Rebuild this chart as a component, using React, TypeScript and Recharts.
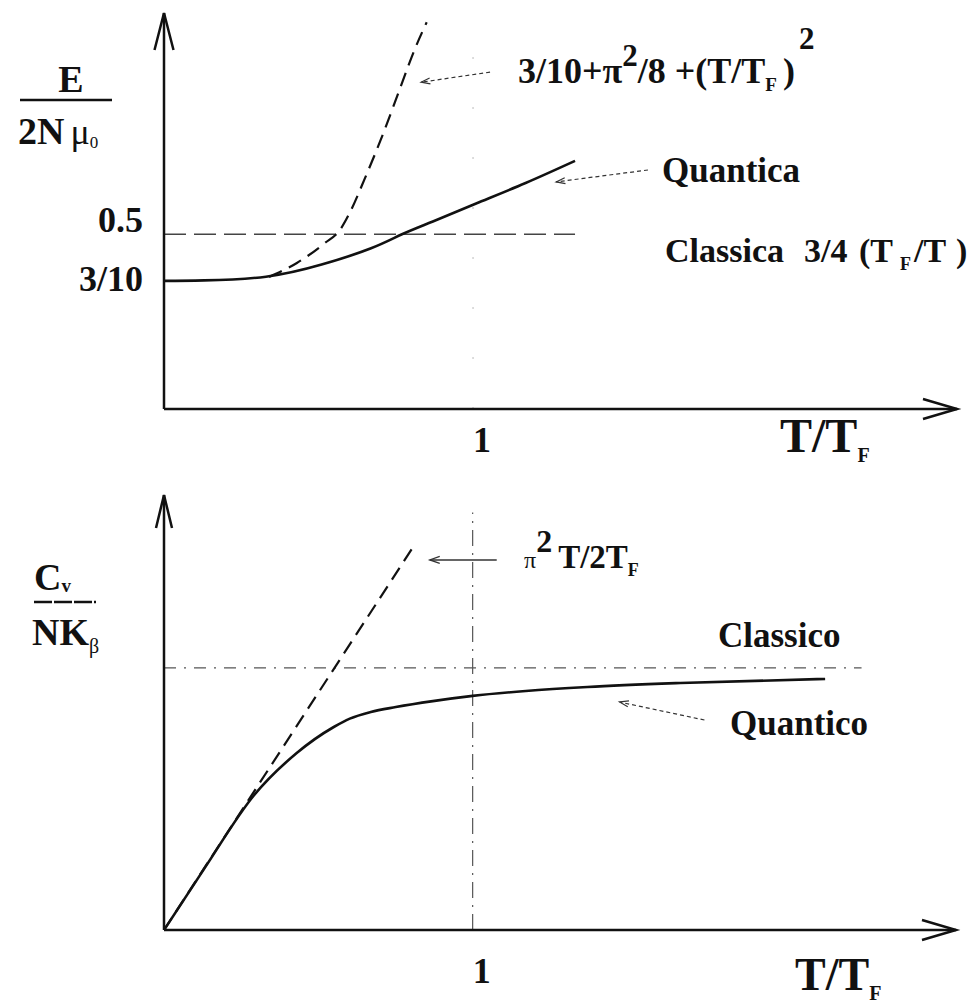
import React from 'react'
import { ComposedChart, Line, XAxis, YAxis, ReferenceLine } from 'recharts'

// Energia media: curva quantistica, sviluppo a bassa T, livello classico
const energyQuantT = [0, 0.13, 0.33, 0.51, 0.67, 0.77, 0.87, 1.01, 1.17, 1.33]
const energyQuantE = [0.3, 0.302, 0.318, 0.37, 0.44, 0.5, 0.555, 0.632, 0.72, 0.815]
const energyLowT = [0.34, 0.43, 0.52, 0.57, 0.6, 0.65, 0.71, 0.77, 0.81, 0.85]
const energyLowE = [0.317, 0.377, 0.462, 0.52, 0.59, 0.74, 0.935, 1.149, 1.29, 1.41]
const energyClassT = [0, 1.33]
const energyClassE = [0.5, 0.5]
const energyTicks = [0.3, 0.5]
const energyTickLabels = ['3/10', '0.5']

// Calore specifico: curva quantistica, retta di bassa T, valore classico
const heatQuantT = [0, 0.13, 0.291, 0.43, 0.55, 0.602, 0.67, 0.751, 0.871, 1.0, 1.172, 1.372, 1.673, 2.142]
const heatQuantC = [0, 0.35, 0.77, 1.013, 1.162, 1.21, 1.248, 1.276, 1.31, 1.34, 1.368, 1.391, 1.414, 1.437]
const heatLinT = [0, 0.81]
const heatLinC = [0, 2.2]
const heatClassT = [0, 2.26]
const heatClassC = [1.5, 1.5]

const unitTicks = [1]
const unitTickLabels = ['1']

const T_MAX = 2.566
const E_DOMAIN: [number, number] = [-0.25, 1.45]
const C_DOMAIN: [number, number] = [0, 2.49]

const FONT = "'Liberation Serif', 'Times New Roman', serif"
const INK = '#111'

const zip = (xs: number[], ys: number[]) => xs.map((t, i) => ({ t, v: ys[i] }))

// linea con punta aperta a "V" sull'estremo finale
function arrowShape(head: number, spread: number, width: number, dash?: string, color = INK) {
  return (p: any) => {
    const { x1, y1, x2, y2 } = p
    const a = Math.atan2(y2 - y1, x2 - x1)
    const bx = x2 - head * Math.cos(a)
    const by = y2 - head * Math.sin(a)
    const sx = spread * Math.sin(a)
    const sy = spread * Math.cos(a)
    return (
      <g>
        <line x1={x1} y1={y1} x2={x2} y2={y2} stroke={color} strokeWidth={width} strokeDasharray={dash} />
        <polyline
          points={`${bx - sx},${by + sy} ${x2},${y2} ${bx + sx},${by - sy}`}
          fill="none" stroke={color} strokeWidth={width} strokeLinejoin="miter"
        />
      </g>
    )
  }
}

const tickFont = { fontFamily: FONT, fontWeight: 700, fontSize: 36, fill: INK }

function UnitTick({ x, y, payload, dy }: any) {
  const i = unitTicks.indexOf(payload.value)
  return <text x={x + 9} y={y + dy} textAnchor="middle" {...tickFont}>{unitTickLabels[i]}</text>
}

function EnergyTick({ x, y, payload }: any) {
  const i = energyTicks.indexOf(payload.value)
  const dy = payload.value === 0.5 ? -2 : 10
  return <text x={x - 21} y={y + dy} textAnchor="end" {...tickFont}>{energyTickLabels[i]}</text>
}

function EnergyChart() {
  return (
    <ComposedChart width={968} height={480} margin={{ top: 13, right: 11, bottom: 0, left: 100 }}>
      <XAxis type="number" dataKey="t" domain={[0, T_MAX]} ticks={unitTicks} allowDataOverflow
        axisLine={false} tickLine={false} tickSize={0} tickMargin={0} height={71}
        tick={<UnitTick dy={43} />} />
      <YAxis type="number" dataKey="v" domain={E_DOMAIN} ticks={energyTicks} allowDataOverflow
        axisLine={false} tickLine={false} tickSize={0} tickMargin={0} width={64}
        tick={<EnergyTick />} />
      <ReferenceLine segment={[{ x: 1, y: E_DOMAIN[0] }, { x: 1, y: 1.35 }]} stroke="#bbb" strokeWidth={1}
        strokeDasharray="2 48" ifOverflow="visible" />
      <Line data={zip(energyClassT, energyClassE)} dataKey="v" stroke="#444" strokeWidth={1.4}
        strokeDasharray="22 8" dot={false} isAnimationActive={false} />
      <Line data={zip(energyLowT, energyLowE)} dataKey="v" type="monotone" stroke={INK} strokeWidth={2.2}
        strokeDasharray="14 8" dot={false} isAnimationActive={false} />
      <Line data={zip(energyQuantT, energyQuantE)} dataKey="v" type="natural" stroke={INK} strokeWidth={2.6}
        dot={false} isAnimationActive={false} />
      {/* assi con freccia */}
      <ReferenceLine segment={[{ x: 0, y: E_DOMAIN[0] }, { x: T_MAX, y: E_DOMAIN[0] }]} ifOverflow="visible"
        shape={arrowShape(34, 10, 2.5)} />
      <ReferenceLine segment={[{ x: 0, y: E_DOMAIN[0] }, { x: 0, y: E_DOMAIN[1] }]} ifOverflow="visible"
        shape={arrowShape(37, 9.5, 2.5)} />
      {/* frecce delle didascalie */}
      <ReferenceLine segment={[{ x: 1.055, y: 1.196 }, { x: 0.832, y: 1.153 }]} ifOverflow="visible"
        shape={arrowShape(9, 3, 1.2, '4 3', '#333')} />
      <ReferenceLine segment={[{ x: 1.566, y: 0.776 }, { x: 1.269, y: 0.725 }]} ifOverflow="visible"
        shape={arrowShape(9, 3, 1.2, '4 3', '#333')} />
    </ComposedChart>
  )
}

function HeatChart() {
  return (
    <ComposedChart width={968} height={525} margin={{ top: 15, right: 12, bottom: 0, left: 100 }}>
      <XAxis type="number" dataKey="t" domain={[0, T_MAX]} ticks={unitTicks} allowDataOverflow
        axisLine={false} tickLine={false} tickSize={0} tickMargin={0} height={75}
        tick={<UnitTick dy={53} />} />
      <YAxis type="number" dataKey="v" domain={C_DOMAIN} ticks={[]} allowDataOverflow
        axisLine={false} tickLine={false} width={64} />
      <ReferenceLine segment={[{ x: 1, y: 0 }, { x: 1, y: 2.39 }]} stroke="#555" strokeWidth={1.2}
        strokeDasharray="16 7 2 7" ifOverflow="visible" />
      <Line data={zip(heatClassT, heatClassC)} dataKey="v" stroke="#555" strokeWidth={1.3}
        strokeDasharray="12 8 2 8" dot={false} isAnimationActive={false} />
      <Line data={zip(heatLinT, heatLinC)} dataKey="v" stroke={INK} strokeWidth={2.2}
        strokeDasharray="14 8" dot={false} isAnimationActive={false} />
      <Line data={zip(heatQuantT, heatQuantC)} dataKey="v" type="monotone" stroke={INK} strokeWidth={2.6}
        dot={false} isAnimationActive={false} />
      <ReferenceLine segment={[{ x: 0, y: 0 }, { x: T_MAX, y: 0 }]} ifOverflow="visible"
        shape={arrowShape(34, 10, 2.5)} />
      <ReferenceLine segment={[{ x: 0, y: 0 }, { x: 0, y: C_DOMAIN[1] }]} ifOverflow="visible"
        shape={arrowShape(33, 8, 2.5)} />
      <ReferenceLine segment={[{ x: 1.078, y: 2.118 }, { x: 0.861, y: 2.118 }]} ifOverflow="visible"
        shape={arrowShape(10, 3.5, 1.3, undefined, '#333')} />
      <ReferenceLine segment={[{ x: 1.751, y: 1.202 }, { x: 1.476, y: 1.305 }]} ifOverflow="visible"
        shape={arrowShape(9, 3, 1.2, '4 3', '#333')} />
    </ComposedChart>
  )
}

// didascalie, titoli degli assi e formule
function Labels() {
  const t = { fontFamily: FONT, fontWeight: 700, fill: INK }
  return (
    <svg width={968} height={1005} style={{ position: 'absolute', left: 0, top: 0, pointerEvents: 'none' }}>
      {/* E / 2N mu_0 */}
      <text x={71} y={92} textAnchor="middle" fontSize={38} {...t}>E</text>
      <line x1={20} y1={100} x2={112} y2={100} stroke={INK} strokeWidth={2.5} />
      <text x={18} y={144} fontSize={38} {...t}>
        2N<tspan fontSize={36} fontWeight={400} dx={6}>μ</tspan>
        <tspan fontSize={17} fontWeight={400} dy={4}>0</tspan>
      </text>

      <text x={518} y={83} fontSize={36} {...t}>
        3/10+π<tspan fontSize={31} dy={-17}>2</tspan>
        <tspan dy={17}>/8 +(T/T</tspan>
        <tspan fontSize={19} dy={8}>F</tspan>
        <tspan dy={-8} dx={6}>)</tspan>
        <tspan fontSize={31} dy={-34} dx={4}>2</tspan>
      </text>
      <text x={662} y={182} fontSize={35} {...t}>Quantica</text>
      <text x={665} y={262} fontSize={34} {...t}>
        Classica<tspan x={804}>3/4</tspan>
        <tspan x={859}>(T</tspan>
        <tspan fontSize={18} dy={8} x={900}>F</tspan>
        <tspan dy={-8} x={914}>/T</tspan>
        <tspan x={956}>)</tspan>
      </text>
      <text x={780} y={452} fontSize={48} {...t}>
        T/T<tspan fontSize={20} dy={10}>F</tspan>
      </text>

      {/* C_v / N K_beta */}
      <text x={34} y={590} fontSize={38} {...t}>
        C<tspan fontSize={19} dy={2}>v</tspan>
      </text>
      <line x1={34} y1={602} x2={96} y2={602} stroke={INK} strokeWidth={2.5} strokeDasharray="18 2" />
      <text x={32} y={645} fontSize={38} {...t}>
        NK<tspan fontSize={20} fontWeight={400} dy={8}>β</tspan>
      </text>

      <text x={524} y={568} fontSize={24} fontWeight={400} fontFamily={FONT} fill={INK}>
        π<tspan fontSize={32} fontWeight={700} dy={-16}>2</tspan>
        <tspan fontSize={33} fontWeight={700} dy={16} dx={6}>T/2T</tspan>
        <tspan fontSize={18} fontWeight={700} dy={8}>F</tspan>
      </text>
      <text x={718} y={647} fontSize={35} {...t}>Classico</text>
      <text x={730} y={735} fontSize={35} {...t}>Quantico</text>
      <text x={795} y={990} fontSize={46} {...t}>
        T/T<tspan fontSize={20} dy={10}>F</tspan>
      </text>
    </svg>
  )
}

export default function App() {
  return (
    <div style={{ position: 'absolute', left: 0, top: 0, width: 968, height: 1005, background: '#fff' }}>
      <div style={{ position: 'absolute', left: 0, top: 0 }}>
        <EnergyChart />
      </div>
      <div style={{ position: 'absolute', left: 0, top: 480 }}>
        <HeatChart />
      </div>
      <Labels />
    </div>
  )
}
